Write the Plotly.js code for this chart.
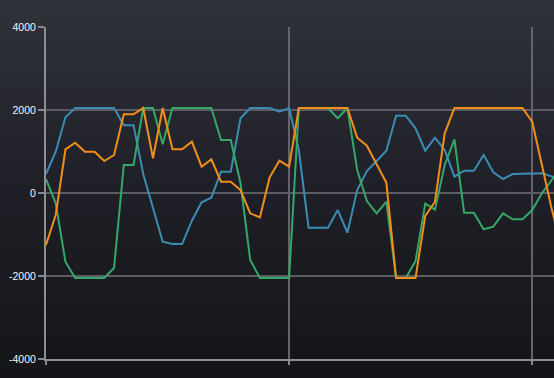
<!DOCTYPE html>
<html>
<head>
<meta charset="utf-8">
<script src="https://cdn.plot.ly/plotly-3.0.1.min.js"></script>
<style>
  html, body { margin: 0; padding: 0; width: 554px; height: 378px; overflow: hidden;
    background: linear-gradient(to bottom, #30323a 0%, #1f2027 50%, #141518 100%); }
  #chart { width: 554px; height: 378px; }
</style>
</head>
<body>
<div id="chart"></div>
<script>
const sampleIndex = [0,1,2,3,4,5,6,7,8,9,10,11,12,13,14,15,16,17,18,19,20,21,22,23,24,25,26,27,28,29,30,31,32,33,34,35,36,37,38,39,40,41,42,43,44,45,46,47,48,49,50,51,52,53];

const blueSeries = [458,995,1824,2048,2048,2048,2048,2048,1630,1630,460,-350,-1173,-1230,-1230,-667,-225,-113,514,514,1800,2048,2048,2048,1960,2048,1036,-836,-836,-836,-410,-956,72,530,771,1020,1863,1863,1559,1020,1333,1036,393,537,537,916,498,337,458,458,470,474,400,350];

const greenSeries = [337,-249,-1656,-2048,-2048,-2048,-2048,-1800,675,675,2048,2048,1173,2048,2048,2048,2048,2048,1277,1277,240,-1615,-2048,-2048,-2048,-2048,2048,2048,2048,2048,1800,2048,554,-193,-490,-209,-2048,-2048,-1640,-257,-400,675,1294,-474,-474,-875,-812,-490,-634,-634,-410,-8,313,620];

const orangeSeries = [-1253,-530,1053,1213,995,995,771,916,1896,1896,2048,836,2048,1053,1053,1237,634,811,273,273,72,-490,-586,378,779,634,2048,2048,2048,2048,2048,2048,1333,1140,691,249,-2048,-2048,-2048,-550,-210,1438,2048,2048,2048,2048,2048,2048,2048,2048,1718,700,-380,-1300];

const yTicks = [-4000,-2000,0,2000,4000];
const xTicks = [0,25,50];

const mk = (y, color) => ({
  x: sampleIndex, y: y, type: 'scatter', mode: 'lines',
  line: {color: color, width: 2}, hoverinfo: 'skip'
});

const data = [
  mk(blueSeries, '#3a8cb5'),
  mk(greenSeries, '#33a86a'),
  mk(orangeSeries, '#f28f1a')
];

const layout = {
  width: 554, height: 378,
  margin: {l: 46, r: 0, t: 27, b: 19, pad: 0},
  paper_bgcolor: 'rgba(0,0,0,0)',
  plot_bgcolor: 'rgba(0,0,0,0)',
  showlegend: false,
  xaxis: {
    range: [0, 52.24],
    tickvals: xTicks,
    showticklabels: false,
    ticks: 'outside', ticklen: 4, tickcolor: '#8a8a8e', tickwidth: 1.5,
    showgrid: true, gridcolor: '#64646a', gridwidth: 1.5,
    zeroline: false,
    showline: true, linecolor: '#8e8e92', linewidth: 2
  },
  yaxis: {
    range: [-4000, 4000],
    tickvals: yTicks,
    ticktext: yTicks.map(String),
    ticks: 'outside', ticklen: 6, tickcolor: '#8a8a8e', tickwidth: 1.5,
    tickfont: {family: 'Liberation Sans, Arial, sans-serif', size: 10.5, color: '#f4f7fc'},
    showgrid: true, gridcolor: '#5c5c62', gridwidth: 1.5,
    zeroline: false,
    showline: true, linecolor: '#8e8e92', linewidth: 2
  }
};

Plotly.newPlot('chart', data, layout, {displayModeBar: false, staticPlot: true});
</script>
</body>
</html>
